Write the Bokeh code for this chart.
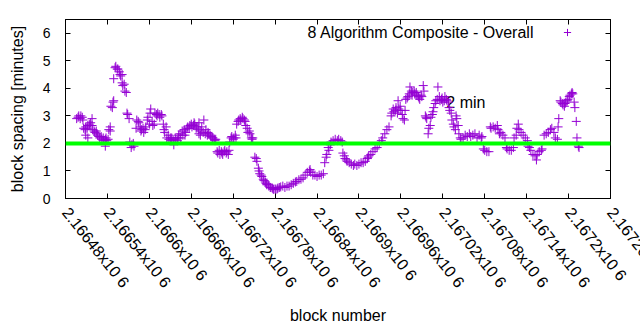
from bokeh.plotting import figure
from bokeh.models import (FixedTicker, LinearAxis, Span, Label, Legend, LegendItem,
                          Range1d, CustomJSTickFormatter)
from bokeh.core.properties import value
from bokeh.embed import file_html
from bokeh.resources import INLINE

SERIES_NAME = "8 Algorithm Composite - Overall"
TARGET_MINUTES = 2
TARGET_LABEL = "2 min"

BLOCKS = [
    2166496, 2166498, 2166499, 2166501, 2166502, 2166504, 2166505, 2166506, 2166508, 2166509,
    2166509, 2166511, 2166512, 2166512, 2166514, 2166515, 2166516, 2166518, 2166518, 2166519,
    2166521, 2166522, 2166524, 2166525, 2166526, 2166528, 2166529, 2166531, 2166532, 2166534,
    2166535, 2166537, 2166537, 2166538, 2166539, 2166541, 2166542, 2166544, 2166544, 2166545,
    2166547, 2166548, 2166549, 2166549, 2166551, 2166552, 2166554, 2166555, 2166557, 2166558,
    2166559, 2166561, 2166561, 2166562, 2166564, 2166565, 2166567, 2166568, 2166569, 2166571,
    2166572, 2166574, 2166575, 2166577, 2166578, 2166581, 2166582, 2166584, 2166585, 2166587,
    2166588, 2166589, 2166591, 2166592, 2166594, 2166595, 2166597, 2166598, 2166600, 2166601,
    2166602, 2166604, 2166605, 2166607, 2166608, 2166610, 2166611, 2166612, 2166614, 2166615,
    2166617, 2166618, 2166620, 2166621, 2166622, 2166624, 2166625, 2166627, 2166628, 2166630,
    2166631, 2166632, 2166634, 2166635, 2166637, 2166638, 2166640, 2166641, 2166642, 2166644,
    2166645, 2166647, 2166648, 2166650, 2166651, 2166652, 2166654, 2166655, 2166657, 2166658,
    2166660, 2166661, 2166663, 2166664, 2166665, 2166667, 2166668, 2166670, 2166671, 2166671,
    2166673, 2166674, 2166675, 2166677, 2166678, 2166680, 2166681, 2166683, 2166684, 2166685,
    2166687, 2166688, 2166690, 2166691, 2166693, 2166694, 2166695, 2166697, 2166698, 2166700,
    2166701, 2166703, 2166704, 2166705, 2166707, 2166708, 2166710, 2166711, 2166713, 2166714,
    2166715, 2166717, 2166718, 2166720, 2166721, 2166723, 2166724, 2166725, 2166727, 2166728,
    2166730, 2166731, 2166733, 2166734, 2166736, 2166737, 2166738, 2166740, 2166741, 2166743,
    2166744, 2166746, 2166747, 2166748, 2166751, 2166753, 2166754, 2166756, 2166757, 2166758,
    2166760, 2166761, 2166763, 2166764, 2166766, 2166767, 2166768, 2166770, 2166771, 2166773,
    2166774, 2166776, 2166777, 2166778, 2166780, 2166781, 2166783, 2166784, 2166786, 2166788,
    2166791, 2166794, 2166797, 2166800, 2166803, 2166806, 2166809, 2166811, 2166814, 2166817,
    2166820, 2166823, 2166826, 2166829, 2166830, 2166831, 2166834, 2166837, 2166840, 2166843,
    2166846, 2166849, 2166851, 2166853, 2166854, 2166856, 2166857, 2166859, 2166860, 2166863,
    2166866, 2166869, 2166871, 2166874, 2166876, 2166877, 2166879, 2166880, 2166882, 2166883,
    2166886, 2166889, 2166892, 2166894, 2166897, 2166900, 2166903, 2166906, 2166909, 2166912,
    2166913, 2166914, 2166917, 2166920, 2166923, 2166926, 2166929, 2166932, 2166934, 2166937,
    2166940, 2166943, 2166946, 2166947, 2166949, 2166950, 2166952, 2166953, 2166955, 2166956,
    2166957, 2166959, 2166960, 2166962, 2166963, 2166965, 2166966, 2166967, 2166969, 2166970,
    2166972, 2166973, 2166975, 2166976, 2166977, 2166979, 2166980, 2166982, 2166983, 2166985,
    2166986, 2166987, 2166989, 2166990, 2166992, 2166993, 2166995, 2166996, 2166997, 2166999,
    2167000, 2167002, 2167003, 2167005, 2167006, 2167007, 2167009, 2167010, 2167012, 2167013,
    2167015, 2167016, 2167018, 2167019, 2167020, 2167022, 2167023, 2167025, 2167026, 2167028,
    2167029, 2167030, 2167032, 2167033, 2167035, 2167036, 2167038, 2167039, 2167040, 2167042,
    2167043, 2167045, 2167046, 2167049, 2167052, 2167055, 2167058, 2167060, 2167063, 2167066,
    2167069, 2167072, 2167075, 2167076, 2167078, 2167080, 2167083, 2167086, 2167088, 2167089,
    2167092, 2167095, 2167098, 2167099, 2167101, 2167103, 2167106, 2167109, 2167111, 2167112,
    2167115, 2167118, 2167121, 2167122, 2167125, 2167126, 2167128, 2167129, 2167132, 2167135,
    2167138, 2167141, 2167142, 2167144, 2167146, 2167149, 2167152, 2167154, 2167155, 2167158,
    2167161, 2167162, 2167165, 2167168, 2167171, 2167174, 2167176, 2167179, 2167181, 2167184,
    2167185, 2167186, 2167188, 2167189, 2167191, 2167192, 2167194, 2167195, 2167196, 2167198,
    2167199, 2167201, 2167202, 2167204, 2167205, 2167206, 2167208, 2167209, 2167211, 2167212,
    2167214, 2167215,
]

SPACING = [
    2.9, 2.95, 3.0, 2.9, 3.0, 2.95, 2.85, 2.55, 2.5, 2.3,
    2.6, 2.55, 2.2, 2.65, 2.7, 2.65, 2.75, 2.9, 2.65, 2.5,
    2.45, 2.4, 2.45, 2.35, 2.3, 2.25, 2.2, 2.25, 2.15, 2.2,
    2.1, 1.9, 2.15, 2.2, 2.1, 2.15, 2.5, 2.6, 2.45, 3.35,
    3.3, 3.5, 3.55, 4.35, 4.75, 4.8, 4.7, 4.7, 4.6, 4.5,
    4.45, 4.5, 4.2, 4.1, 4.15, 3.9, 3.85, 3.1, 3.05, 2.9,
    2.05, 1.85, 1.95, 2.0, 1.9, 2.55, 2.85, 2.8, 2.75, 2.6,
    2.45, 2.5, 2.55, 2.4, 2.5, 2.6, 2.85, 2.95, 2.7, 3.1,
    3.25, 2.8, 2.65, 2.7, 3.1, 3.05, 3.0, 3.1, 3.05, 2.95,
    3.05, 3.0, 2.7, 2.5, 2.4, 2.6, 2.2, 2.3, 2.15, 2.2,
    2.1, 2.2, 2.15, 1.95, 2.2, 2.15, 2.1, 2.2, 2.3, 2.35,
    2.2, 2.45, 2.3, 2.5, 2.3, 2.4, 2.55, 2.6, 2.55, 2.65,
    2.7, 2.6, 2.65, 2.75, 2.7, 2.55, 2.6, 2.5, 2.35, 2.75,
    2.3, 2.45, 2.6, 2.4, 2.85, 2.35, 2.5, 2.3, 2.4, 2.35,
    2.3, 2.25, 2.2, 2.2, 2.15, 2.1, 2.15, 1.7, 1.65, 1.75,
    1.6, 1.7, 1.65, 1.6, 1.7, 1.75, 1.65, 1.7, 1.6, 1.75,
    2.05, 2.2, 2.25, 2.15, 2.2, 2.3, 2.2, 2.7, 2.8, 2.85,
    2.9, 2.85, 2.95, 2.9, 2.85, 2.8, 2.65, 2.55, 2.4, 2.45,
    2.35, 2.2, 2.15, 2.2, 1.5, 1.45, 1.35, 1.1, 1.0, 0.9,
    0.85, 0.8, 0.7, 0.65, 0.6, 0.55, 0.5, 0.5, 0.45, 0.4,
    0.4, 0.38, 0.35, 0.33, 0.35, 0.32, 0.35, 0.38, 0.4, 0.42,
    0.45, 0.4, 0.45, 0.45, 0.5, 0.55, 0.6, 0.62, 0.68, 0.7,
    0.75, 0.85, 0.95, 1.0, 1.05, 0.95, 0.85, 0.85, 0.8, 0.85,
    0.85, 0.9, 1.3, 1.5, 1.6, 1.85, 1.75, 1.95, 2.05, 2.1,
    2.15, 2.1, 2.15, 2.1, 2.05, 1.65, 1.55, 1.45, 1.4, 1.35,
    1.3, 1.25, 1.2, 1.25, 1.2, 1.25, 1.3, 1.3, 1.35, 1.45,
    1.5, 1.55, 1.6, 1.7, 1.8, 1.85, 2.0, 2.1, 2.2, 2.35,
    2.5, 2.6, 3.0, 3.1, 3.25, 3.15, 3.2, 3.3, 3.1, 3.55,
    3.25, 3.35, 3.2, 3.05, 2.9, 2.85, 3.2, 3.6, 3.65, 3.7,
    3.8, 4.05, 3.9, 3.75, 3.85, 3.9, 3.8, 3.85, 3.75, 3.7,
    3.65, 3.6, 3.75, 3.7, 4.1, 3.9, 3.0, 2.95, 2.9, 2.35,
    2.55, 2.65, 2.95, 3.05, 3.15, 3.3, 3.45, 3.55, 3.6, 4.05,
    3.7, 3.55, 3.6, 3.65, 3.5, 3.55, 3.7, 3.6, 3.55, 3.5,
    3.3, 3.2, 3.1, 2.85, 2.7, 2.6, 2.5, 3.0, 2.9, 2.65,
    2.35, 2.2, 2.15, 2.2, 2.3, 2.25, 2.35, 2.25, 2.3, 2.35,
    2.2, 2.3, 2.2, 2.25, 1.8, 1.75, 1.7, 1.7, 2.6, 2.55,
    2.6, 2.55, 2.65, 2.5, 2.35, 2.4, 2.3, 2.2, 1.85, 1.8,
    1.75, 1.75, 1.85, 2.2, 2.3, 2.55, 2.7, 2.5, 2.4, 2.3,
    2.2, 2.1, 1.9, 1.85, 1.75, 1.6, 1.55, 1.4, 1.6, 1.7,
    1.75, 1.8, 2.3, 2.35, 2.4, 2.5, 2.55, 2.4, 2.2, 2.15,
    2.6, 2.9, 3.55, 3.5, 3.45, 3.4, 3.35, 3.45, 3.5, 3.55,
    3.6, 3.7, 3.75, 3.8, 3.85, 3.8, 3.5, 3.3, 2.8, 2.2,
    1.9, 1.85,
]

X_TICKS = [2166480, 2166540, 2166600, 2166660, 2166720, 2166780, 2166840,
           2166900, 2166960, 2167020, 2167080, 2167140, 2167200, 2167260]
X_TICK_LABELS = ["2.16648x10 6", "2.16654x10 6", "2.1666x10 6", "2.16666x10 6",
                 "2.16672x10 6", "2.16678x10 6", "2.16684x10 6", "2.1669x10 6",
                 "2.16696x10 6", "2.16702x10 6", "2.16708x10 6", "2.16714x10 6",
                 "2.1672x10 6", "2.16726x10 6"]
Y_TICKS = [0, 1, 2, 3, 4, 5, 6]

FONT = "Liberation Sans"
PURPLE = "#9400d3"
X_LABEL_ANGLE = -0.9
X_LABEL_SIZE = "16px"
X_LABEL_STANDOFF = 11

p = figure(frame_width=545, frame_height=179,
           min_border_left=65, min_border_right=30, min_border_top=19, min_border_bottom=132,
           x_range=Range1d(2166480, 2167260), y_range=Range1d(0, 6.5),
           x_axis_label="block number", y_axis_label="block spacing [minutes]",
           output_backend="svg", toolbar_location=None)
p.xgrid.visible = False
p.ygrid.visible = False
p.outline_line_color = "black"
p.outline_line_width = 1
p.background_fill_color = "white"
p.border_fill_color = "white"

for ax in (p.xaxis[0], p.yaxis[0]):
    ax.major_tick_in = 5
    ax.major_tick_out = 0
    ax.minor_tick_line_color = None
    ax.axis_line_color = "black"
    ax.major_tick_line_color = "black"
    ax.major_label_text_font = FONT
    ax.major_label_text_font_size = "14px"
    ax.major_label_text_color = "black"
    ax.axis_label_text_font = FONT
    ax.axis_label_text_font_size = "16px"
    ax.axis_label_text_font_style = "normal"
    ax.axis_label_text_color = "black"

# The last tick label runs past the right edge of the page (as in the original);
# the axis would push it back inside, so it is drawn as an unclipped text instead.
overrides = {t: s for t, s in zip(X_TICKS, X_TICK_LABELS)}
overrides[X_TICKS[-1]] = ""
p.xaxis[0].ticker = FixedTicker(ticks=X_TICKS)
p.xaxis[0].major_label_overrides = overrides
p.xaxis[0].major_label_orientation = X_LABEL_ANGLE
p.xaxis[0].major_label_text_font_size = X_LABEL_SIZE
p.xaxis[0].major_label_standoff = X_LABEL_STANDOFF
p.xaxis[0].axis_label_standoff = 8

p.yaxis[0].ticker = FixedTicker(ticks=Y_TICKS)
p.yaxis[0].major_label_standoff = 15
p.yaxis[0].axis_label_standoff = 14

blank = "return ''"
top = LinearAxis(ticker=FixedTicker(ticks=X_TICKS), formatter=CustomJSTickFormatter(code=blank),
                 major_tick_in=5, major_tick_out=0, minor_tick_line_color=None,
                 major_label_text_font_size="0px", major_label_standoff=0, axis_line_color="black")
right = LinearAxis(ticker=FixedTicker(ticks=Y_TICKS), formatter=CustomJSTickFormatter(code=blank),
                   major_tick_in=5, major_tick_out=0, minor_tick_line_color=None,
                   major_label_text_font_size="0px", major_label_standoff=0, axis_line_color="black")
p.add_layout(top, "above")
p.add_layout(right, "right")

p.text(x=[X_TICKS[-1]], y=[Y_TICKS[0]], text=[X_TICK_LABELS[-1]], y_offset=X_LABEL_STANDOFF,
       angle=X_LABEL_ANGLE, text_align="left", text_baseline="middle",
       text_font=value(FONT), text_font_size=X_LABEL_SIZE, text_color="black", level="overlay")

p.add_layout(Span(location=TARGET_MINUTES, dimension="width", line_color="#00ff00", line_width=4))

p.text(x=[2167025], y=[3.5], text=[TARGET_LABEL], text_font=value(FONT), text_font_size="16px",
       text_baseline="middle", text_align="left", text_color="black")

r = p.scatter(BLOCKS, SPACING, marker="cross", size=9, line_color=PURPLE, line_width=1)

p.add_layout(Label(x=2167151, y=6.04, text=SERIES_NAME, text_align="right", text_baseline="middle",
                   text_font=FONT, text_font_size="16px", text_color="black"))

legend = Legend(items=[LegendItem(label=" ", renderers=[r])], location=(493, 157),
                glyph_width=18, glyph_height=18, padding=0, margin=0, spacing=0,
                label_standoff=0, label_text_font_size="8px", border_line_color=None,
                background_fill_alpha=0)
p.add_layout(legend)

open("out.html", "w").write(file_html(p, INLINE))
